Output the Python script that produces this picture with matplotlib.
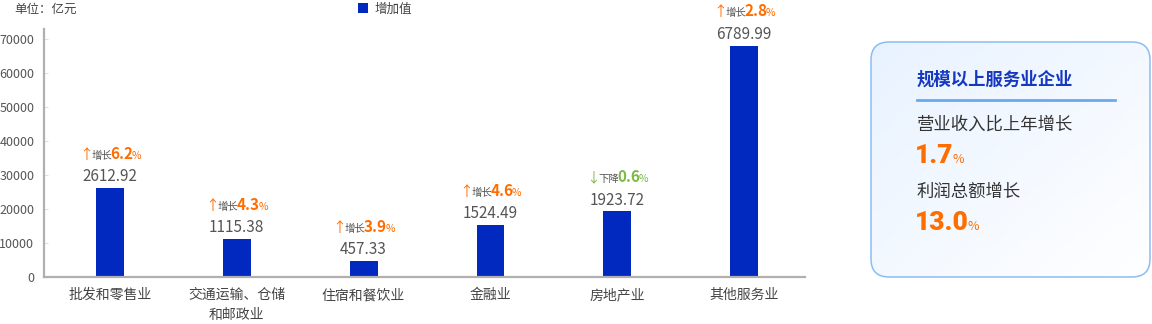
import numpy as np
import matplotlib.pyplot as plt
from matplotlib.offsetbox import TextArea, HPacker, AnnotationBbox
from matplotlib.patches import FancyBboxPatch

plt.rcParams['font.family'] = ['Noto Sans CJK SC', 'DejaVu Sans']

# 各行业增加值（亿元）及增速（%）
categories = ['批发和零售业', '交通运输、仓储\n和邮政业', '住宿和餐饮业', '金融业', '房地产业', '其他服务业']
values = [2612.92, 1115.38, 457.33, 1524.49, 1923.72, 6789.99]
growth = [6.2, 4.3, 3.9, 4.6, -0.6, 2.8]
yticks = [0, 10000, 20000, 30000, 40000, 50000, 60000, 70000]
bar_scale = 10  # 柱高按坐标轴刻度放大

# 右侧汇总
panel_title = '规模以上服务业企业'
panel_items = ['营业收入比上年增长', '利润总额增长']
panel_values = [1.7, 13.0]

BLUE = '#0229BF'
ORANGE = '#FF6D00'
GREEN = '#7DBA45'
GRAY = '#555555'

fig = plt.figure(figsize=(11.52, 3.24), dpi=100)
ax = fig.add_axes([44 / 1152, 47 / 324, 761 / 1152, 248 / 324])

x = np.arange(len(categories))
heights = [v * bar_scale for v in values]
ax.bar(x, heights, width=0.22, color=BLUE, label='增加值', zorder=2)
ax.set_xlim(-0.52, 5.48)
ax.set_ylim(0, 72800)
ax.set_xticks(x)
ax.set_xticklabels(categories, fontsize=10, color='#444444', linespacing=1.5)
ax.set_yticks(yticks)
ax.set_yticklabels([str(t) for t in yticks], fontsize=9, color=GRAY)
ax.tick_params(axis='x', length=0, pad=8)
ax.tick_params(axis='y', direction='in', length=3, color='#e0e0e0', pad=7)
for s in ['top', 'right']:
    ax.spines[s].set_visible(False)
ax.spines['left'].set_color('#b0b0b0')
ax.spines['left'].set_linewidth(1.6)
ax.spines['bottom'].set_color('#b0b0b0')
ax.spines['bottom'].set_linewidth(1.6)

for i, (h, v, g) in enumerate(zip(heights, values, growth)):
    ax.annotate(f'{v:.2f}', (i, h), xytext=(0, 5), textcoords='offset points',
                ha='center', va='baseline', fontsize=11, color=GRAY)
    c = ORANGE if g >= 0 else GREEN
    parts = [
        TextArea('↑' if g >= 0 else '↓', textprops=dict(color=c, fontsize=10)),
        TextArea('增长' if g >= 0 else '下降', textprops=dict(color=GRAY, fontsize=7.5)),
        TextArea(f'{abs(g):.1f}', textprops=dict(color=c, fontsize=11, fontweight='bold')),
        TextArea('%', textprops=dict(color=c, fontsize=7.5)),
    ]
    box = HPacker(children=parts, align='baseline', pad=0, sep=-1.2)
    ab = AnnotationBbox(box, (i, h), xybox=(0, 19), boxcoords='offset points',
                        frameon=False, box_alignment=(0.5, 0))
    ax.add_artist(ab)

fig.text(14 / 1152, 1 - 9 / 324, '单位：亿元', fontsize=9, color='#444444', va='center')
fig.legend(loc='center', bbox_to_anchor=(385 / 1152, 1 - 9 / 324), frameon=False,
           fontsize=9, handlelength=0.8, handleheight=0.8, handletextpad=0.6,
           labelcolor='#444444')

# 右侧汇总卡片
pw, ph = 281, 237
pax = fig.add_axes([870 / 1152, (324 - 41 - ph) / 324, pw / 1152, ph / 324])
pax.set_xlim(0, pw)
pax.set_ylim(ph, 0)
pax.axis('off')

gx, gy = np.meshgrid(np.linspace(0, 1, 200), np.linspace(0, 1, 200))
t = np.clip((gx + gy) / 2, 0, 1)
c0 = np.array([0.91, 0.95, 1.0])
c1 = np.array([1.0, 1.0, 1.0])
grad = c0[None, None, :] * (1 - t[..., None]) + c1[None, None, :] * t[..., None]
im = pax.imshow(grad, extent=(0, pw, ph, 0), aspect='auto', zorder=0)
card = FancyBboxPatch((1, 1), pw - 2, ph - 2, boxstyle='round,pad=0,rounding_size=18',
                      facecolor='none', edgecolor='#8DBDF0', linewidth=1.1, zorder=2)
pax.add_patch(card)
im.set_clip_path(card)

pax.text(47, 39, panel_title, fontsize=12.5, fontweight='bold', color='#1438C0', va='center')
pax.plot([47, 245], [59, 59], color='#6AA9F0', linewidth=2)

rows_y = [84, 151]
for (label, val), yy in zip(zip(panel_items, panel_values), rows_y):
    pax.text(47, yy, label, fontsize=12.5, color='#333333', va='center')
    vp = HPacker(children=[
        TextArea(f'{val:.1f}', textprops=dict(color=ORANGE, fontsize=19, fontweight='heavy',
                                              family=['Roboto', 'DejaVu Sans'])),
        TextArea('%', textprops=dict(color=ORANGE, fontsize=9)),
    ], align='baseline', pad=0, sep=-1)
    pax.add_artist(AnnotationBbox(vp, (45, yy + 31), xycoords='data', frameon=False,
                                  box_alignment=(0, 0.5)))

fig.savefig('out.png', dpi=100)
